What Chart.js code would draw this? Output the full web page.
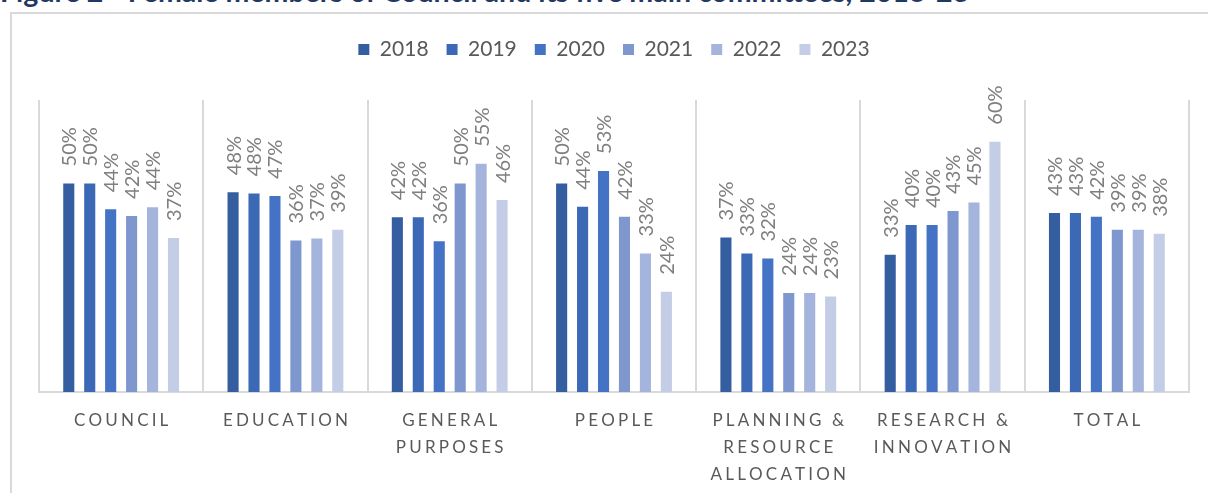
<!DOCTYPE html>
<html>
<head>
<meta charset="utf-8">
<script src="https://cdn.jsdelivr.net/npm/chart.js@4"></script>
<style>
  html, body { margin: 0; padding: 0; background: #fff; overflow: hidden; }
  body { width: 1208px; height: 493px; position: relative; font-family: Lato, sans-serif; }
  #figTitle {
    position: absolute; left: 0; top: -23px; margin: 0;
    font: bold 28.5px/28px Lato, sans-serif; color: #1f3864; white-space: nowrap;
  }
  #frame {
    position: absolute; left: 10px; top: 12px; width: 1300px; height: 600px;
    border-left: 2px solid #d9d9d9; border-top: 2px solid #d9d9d9;
  }
  #wrap { position: absolute; left: 0; top: 0; width: 1208px; height: 512px; }
</style>
</head>
<body>
<div id="figTitle">Figure 2 - Female members of Council and its five main committees, 2018-23</div>
<div id="frame"></div>
<div id="wrap"><canvas id="chart"></canvas></div>
<script>
// Data (share of female members, %)
const categories = [
    ['COUNCIL'],
    ['EDUCATION'],
    ['GENERAL', 'PURPOSES'],
    ['PEOPLE'],
    ['PLANNING &', 'RESOURCE', 'ALLOCATION'],
    ['RESEARCH &', 'INNOVATION'],
    ['TOTAL']
];
const years = ['2018', '2019', '2020', '2021', '2022', '2023'];

const share2018 = [50.0, 47.9, 41.9, 50.0, 37.0, 32.9, 42.9];
const share2019 = [50.0, 47.6, 41.9, 44.4, 33.2, 40.0, 42.9];
const share2020 = [43.8, 47.0, 36.1, 53.0, 32.0, 40.0, 42.0];
const share2021 = [42.2, 36.3, 50.0, 42.0, 23.7, 43.4, 38.9];
const share2022 = [44.3, 36.8, 54.7, 33.2, 23.7, 45.4, 38.9];
const share2023 = [36.9, 38.9, 46.0, 24.0, 22.9, 60.0, 37.9];

const yearColors = ['#355ea0', '#3c69b6', '#4472c4', '#7f97cf', '#a5b4dc', '#c3cde6'];

// spread out capital letters like the original axis labels
const spaced = s => s.split('').join('\u2009\u200A');

// Rotated value labels above each bar
const barLabels = {
    id: 'barLabels',
    afterDatasetsDraw(chart) {
        const ctx = chart.ctx;
        ctx.save();
        ctx.font = '20px Lato, sans-serif';
        ctx.fillStyle = '#7f7f7f';
        ctx.textAlign = 'left';
        ctx.textBaseline = 'middle';
        chart.data.datasets.forEach((ds, i) => {
            chart.getDatasetMeta(i).data.forEach((bar, j) => {
                ctx.save();
                ctx.translate(bar.x, bar.y - 17);
                ctx.rotate(-Math.PI / 2);
                ctx.fillText(Math.round(ds.data[j]) + '%', 0, 1);
                ctx.restore();
            });
        });
        ctx.restore();
    }
};

// extra room between legend and plot
const legendGap = {
    id: 'legendGap',
    beforeInit(chart) {
        const fit = chart.legend.fit;
        chart.legend.fit = function () {
            fit.bind(chart.legend)();
            this.height += 30;
        };
    }
};

const seriesData = [share2018, share2019, share2020, share2021, share2022, share2023];

new Chart(document.getElementById('chart'), {
    type: 'bar',
    data: {
        labels: categories.map(lines => lines.map(spaced)),
        datasets: years.map((y, i) => ({
            label: y,
            data: seriesData[i],
            backgroundColor: yearColors[i],
            categoryPercentage: 0.765,
            barPercentage: 0.53
        }))
    },
    options: {
        responsive: true,
        maintainAspectRatio: false,
        animation: false,
        events: [],
        layout: {
            padding: { left: 39, right: 19, top: 21, bottom: 9 }
        },
        plugins: {
            legend: {
                position: 'top',
                labels: {
                    boxWidth: 11,
                    boxHeight: 11,
                    padding: 18,
                    color: '#595959',
                    font: { family: 'Lato, sans-serif', size: 21 }
                }
            },
            tooltip: { enabled: false }
        },
        scales: {
            x: {
                grid: {
                    offset: true,
                    color: '#d9d9d9',
                    lineWidth: 2,
                    drawTicks: false
                },
                border: { color: '#d9d9d9', width: 2 },
                ticks: {
                    autoSkip: false,
                    maxRotation: 0,
                    padding: 15,
                    color: '#595959',
                    font: { family: 'Lato, sans-serif', size: 17, lineHeight: 1.59 }
                }
            },
            y: {
                display: false,
                min: 0,
                max: 70
            }
        }
    },
    plugins: [legendGap, barLabels]
});
</script>
</body>
</html>
